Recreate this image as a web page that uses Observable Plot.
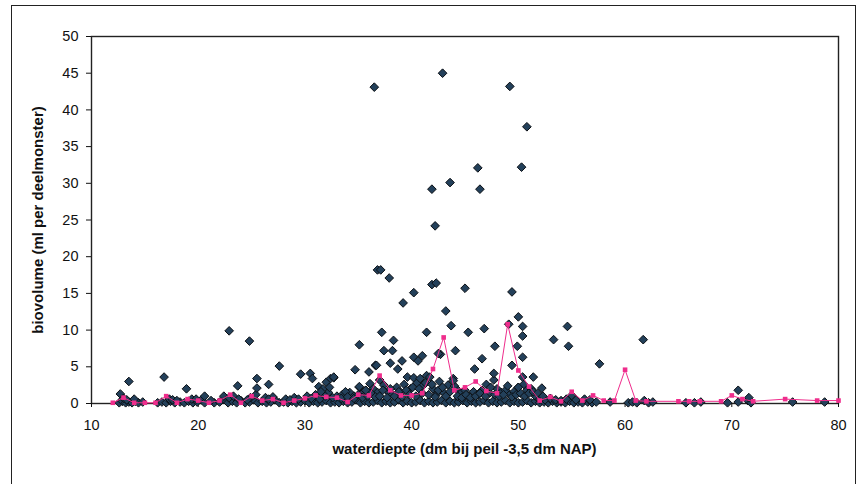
<!DOCTYPE html>
<html>
<head>
<meta charset="utf-8">
<script src="https://cdn.jsdelivr.net/npm/d3@7"></script>
<script src="https://cdn.jsdelivr.net/npm/@observablehq/plot@0.6"></script>
<style>
  body { margin: 0; background: #fff; }
  #wrap { position: relative; width: 861px; height: 484px; overflow: hidden;
          font-family: "Liberation Sans", Arial, sans-serif; color: #111; }
  #outer { position: absolute; left: 11px; top: 5px; width: 845px; height: 540px;
           border: 1.5px solid #222; box-sizing: border-box; }
  #xtitle { position: absolute; left: 91px; width: 747px; top: 440px; text-align: center;
            font-weight: bold; font-size: 15px; }
  #ytitle { position: absolute; left: 37px; top: 220px; transform: translate(-50%, -50%) rotate(-90deg);
            white-space: nowrap; font-weight: bold; font-size: 15px; }
  #chart { position: absolute; left: 0; top: 0; }
</style>
</head>
<body>
<div id="wrap">
  <div id="outer"></div>
  <div id="chart"></div>
  <div id="xtitle">waterdiepte (dm bij peil -3,5 dm NAP)</div>
  <div id="ytitle">biovolume (ml per deelmonster)</div>
</div>
<script>
// axis ticks
const xTicks = [10, 20, 30, 40, 50, 60, 70, 80];
const yTicks = [0, 5, 10, 15, 20, 25, 30, 35, 40, 45, 50];

// individual samples near the bottom: [waterdiepte, biovolume]
const baseSamples = [
  [12.6,0.1],[12.9,0.3],[13.2,0.1],[13.5,0.2],[13.8,0.1],[14.1,0.3],[14.4,0.1],[14.8,0.2],
  [16.2,0.1],[16.6,0.2],[17.0,0.1],[17.4,0.3],[17.8,0.1],[18.3,0.2],
  [18.7,0.1],[19.1,0.3],[19.5,0.1],[19.9,0.2],[20.3,0.5],[20.6,0.1],
  [21.5,0.1],[22.0,0.2],[22.4,0.6],[22.8,0.1],[23.2,0.3],[23.6,0.1],[24.0,0.4],[24.4,0.1],
  [24.8,0.2],[25.2,0.5],[25.6,0.1],[26.0,0.3],[26.4,0.1],[26.8,0.2],[27.2,0.5],[27.6,0.1],
  [28.0,0.2],[28.4,0.1],[28.8,0.3],[29.2,0.1],[29.6,0.2],[30.0,0.4],[30.4,0.1],[30.8,0.3],
  [31.2,0.1],[31.6,0.2],[32.0,0.4],[32.4,0.1],[32.8,0.2],[33.2,0.1],[33.6,0.3],[34.0,0.1],
  [34.4,0.2],[34.8,0.5],[35.2,0.1],[35.6,0.3],[36.0,0.1],[36.4,0.2],[36.8,0.4],[37.2,0.1],
  [37.6,0.3],[38.0,0.1],[38.4,0.2],[38.8,0.5],[39.2,0.1],[39.6,0.3],[40.0,0.1],[40.4,0.2],
  [40.8,0.4],[41.2,0.1],[41.6,0.3],[42.0,0.1],[42.4,0.2],[42.8,0.4],[43.2,0.1],[43.6,0.3],
  [44.0,0.1],[44.4,0.2],[44.8,0.4],[45.2,0.1],[45.6,0.3],[46.0,0.1],[46.4,0.2],[46.8,0.4],
  [47.2,0.1],[47.6,0.3],[48.0,0.1],[48.4,0.2],[48.8,0.4],[49.2,0.1],[49.6,0.3],[50.0,0.1],
  [50.4,0.2],[50.8,0.4],[51.2,0.1],[51.6,0.3],[52.0,0.1],[52.4,0.2],[52.8,0.1],[53.2,0.3],
  [53.6,0.1],[54.0,0.2],[54.4,0.1],[54.8,0.3],[55.2,0.1],[55.6,0.2],[56.0,0.1],[56.5,0.2],
  [56.9,0.1],[57.3,0.2],[58.6,0.2],[60.3,0.1],[60.7,0.2],[61.1,0.1],[61.8,0.4],[62.2,0.1],
  [62.6,0.2],[65.7,0.1],[66.5,0.1],[67.1,0.2],[69.6,0.1],[70.6,0.2],[71.5,0.4],[71.8,0.1],
  [75.7,0.2],[78.7,0.2]
];

// samples in the low band (about 0.5 - 4)
const lowSamples = [
  [12.7,1.3],[13.0,0.7],[17.3,0.6],[19.4,0.6],[20.6,1.0],[22.4,1.0],[22.9,0.8],[23.3,1.0],
  [24.9,0.8],[25.4,1.2],[26.3,0.8],[27.0,0.9],[28.2,0.6],[29.0,0.8],[30.2,1.0],[31.0,1.2],
  [31.3,2.3],[31.7,2.0],[32.0,2.9],[32.2,1.5],[32.4,3.4],[32.7,3.5],[33.0,1.0],[33.5,1.2],
  [34.2,1.5],[34.6,1.0],[35.1,2.2],[35.5,1.5],[35.7,1.8],[36.1,2.7],[36.4,2.0],[36.8,1.5],
  [37.0,3.2],[37.4,2.5],[37.8,1.6],[38.2,1.2],[38.6,2.2],[39.0,1.5],[39.3,2.6],[39.6,3.6],
  [39.9,2.0],[40.2,3.5],[40.5,2.8],[40.8,3.4],[41.1,2.5],[41.4,3.8],[41.7,3.6],[42.0,2.0],
  [42.3,1.2],[42.6,3.0],[43.0,1.5],[43.4,2.5],[43.9,3.4],[44.2,2.0],[44.6,1.4],[45.0,1.8],
  [45.4,1.0],[45.8,1.6],[46.2,1.2],[46.6,1.8],[47.0,2.6],[47.3,1.4],[47.7,3.2],[48.0,2.0],
  [48.4,1.5],[48.8,1.8],[49.2,1.2],[49.6,1.6],[50.0,2.2],[50.5,2.6],[50.8,1.8],[51.2,2.0],
  [51.6,1.0],[52.0,0.6],[52.5,0.5],[53.0,0.7],[53.5,0.5],[54.0,0.4],[54.5,0.6],[55.0,1.1],
  [55.4,0.5],[56.2,0.6],[56.7,0.5]
];

// extra samples that fill the dense band
const denseSamples = [
  [13.3,0.5],[14.0,0.6],[17.6,0.5],[18.0,0.4],[19.8,0.6],[21.2,0.4],[23.8,0.6],[24.6,0.5],
  [26.6,0.6],[28.6,0.5],[29.4,0.6],[30.6,0.7],[31.4,0.6],[32.6,0.8],[31.9,1.0],[32.3,2.2],
  [31.5,1.6],[33.4,0.7],[33.8,1.6],[34.0,0.9],[34.6,0.7],[35.0,1.2],[35.4,0.8],[35.9,1.0],
  [36.2,1.4],[36.6,0.9],[37.0,1.0],[37.3,1.8],[37.7,0.8],[38.0,2.0],[38.4,1.0],[38.8,1.6],
  [39.1,0.9],[39.5,1.8],[39.8,1.2],[40.1,2.2],[40.4,1.0],[40.7,2.0],[41.0,1.4],[41.3,2.8],
  [41.6,1.2],[41.9,2.6],[42.2,0.9],[42.5,1.8],[42.9,2.2],[43.2,1.0],[43.6,1.6],[44.0,2.4],
  [44.3,1.0],[44.7,0.8],[45.1,1.2],[45.5,0.8],[46.0,1.0],[46.4,1.4],[46.9,1.0],[47.4,2.2],
  [47.8,1.2],[48.2,1.0],[48.6,1.2],[49.0,2.4],[49.4,0.9],[49.8,1.2],[50.2,1.4],[50.6,1.0],
  [51.0,1.4],[51.4,1.6],[51.8,1.4],[52.3,1.0]
];

// scattered higher samples
const highSamples = [
  [13.5,3.0],[16.8,3.6],[18.9,2.0],[22.9,9.9],[24.8,8.5],[23.7,2.4],[25.5,3.4],[25.5,2.1],
  [26.6,2.6],[27.6,5.1],[29.6,4.0],[30.5,4.1],[30.7,3.4],[35.1,8.0],[34.7,4.6],[36.0,4.3],
  [36.6,5.2],[35.1,2.3],[35.7,1.8],
  [36.5,43.1],[42.9,45.0],[49.2,43.2],[50.8,37.7],[46.2,32.1],[50.3,32.2],[43.6,30.1],
  [41.9,29.2],[46.4,29.2],[42.2,24.2],
  [36.8,18.2],[37.1,18.2],[37.9,17.1],[41.9,16.2],[42.3,16.4],[40.2,15.1],[39.2,13.7],
  [45.0,15.7],[49.4,15.2],[43.2,12.6],[50.0,11.8],[50.4,10.5],[50.4,9.2],[43.7,10.6],
  [37.2,9.7],[41.4,9.7],[45.3,9.7],[46.8,10.2],[49.1,10.8],[38.3,8.6],[37.4,7.2],[38.2,7.2],
  [47.8,7.8],[44.1,7.2],[49.9,7.8],[53.3,8.7],[54.6,10.5],[54.7,7.8],[50.4,6.3],[46.6,6.1],
  [42.7,6.7],[42.5,6.8],[40.2,6.3],[40.6,5.8],[41.0,6.5],[39.1,5.8],[38.0,5.5],[36.7,5.2],
  [38.7,4.7],[45.9,4.7],[49.4,5.2],[47.7,4.1],[51.4,3.6],[50.4,3.6],[52.2,2.1],[50.0,2.2],
  [32.7,3.6],[43.9,3.1],[57.6,5.4],[61.7,8.7],[55.0,1.1],[70.6,1.8],[71.6,0.8]
];

// mean per depth (pink line)
const meanDepth = [12,13,14,15,16,17,18,19,20,21,22,23,24,25,26,27,28,29,30,31,32,33,34,35,36,37,38,39,40,
  41,42,43,44,45,46,47,48,49,50,51,52,53,54,55,56,57,58,59,60,61,62,65,66,67,69,70,71,72,75,78,80];
const meanVolume = [0.1,0.8,0.1,0.1,0.1,1.0,0.1,0.6,0.4,0.1,0.4,1.2,0.1,1.0,0.4,0.6,0.1,0.4,0.7,1.1,0.9,0.8,0.2,1.2,1.1,3.8,1.8,1.1,1.1,
  1.4,4.7,9.0,1.8,2.2,3.0,1.7,1.4,10.8,4.5,2.3,0.4,0.9,0.3,1.6,0.4,1.1,0.4,0.4,4.6,0.4,0.3,0.3,0.3,0.3,0.3,1.1,0.6,0.3,0.6,0.4,0.4];

const samples = [...baseSamples, ...lowSamples, ...denseSamples, ...highSamples].map(([x, y]) => ({x, y}));
const means = meanDepth.map((x, i) => ({x, y: meanVolume[i]}));

const chart = Plot.plot({
  width: 861,
  height: 484,
  marginLeft: 91,
  marginRight: 23,
  marginTop: 36,
  marginBottom: 81,
  style: { fontFamily: '"Liberation Sans", Arial, sans-serif', fontSize: "14.5px", color: "#111", background: "transparent" },
  x: { domain: [10, 80] },
  y: { domain: [0, 50] },
  marks: [
    Plot.frame({ stroke: "#222", strokeWidth: 1.4 }),
    Plot.axisY({ ticks: yTicks, tickSize: 5, tickPadding: 8, label: null, tickFormat: d => String(d) }),
    Plot.axisX({ ticks: xTicks, tickSize: 4, tickPadding: 12, label: null, tickFormat: d => String(d) }),
    Plot.dot(samples, { x: "x", y: "y", symbol: "diamond2", r: 3.9, fill: "#23405a", stroke: "#0b0f14", strokeWidth: 1 }),
    Plot.line(means, { x: "x", y: "y", stroke: "#ef2d8c", strokeWidth: 1 }),
    Plot.dot(means, { x: "x", y: "y", symbol: "square", r: 2.6, fill: "#ef2d8c", stroke: "none" })
  ]
});
document.getElementById("chart").appendChild(chart);
</script>
</body>
</html>
